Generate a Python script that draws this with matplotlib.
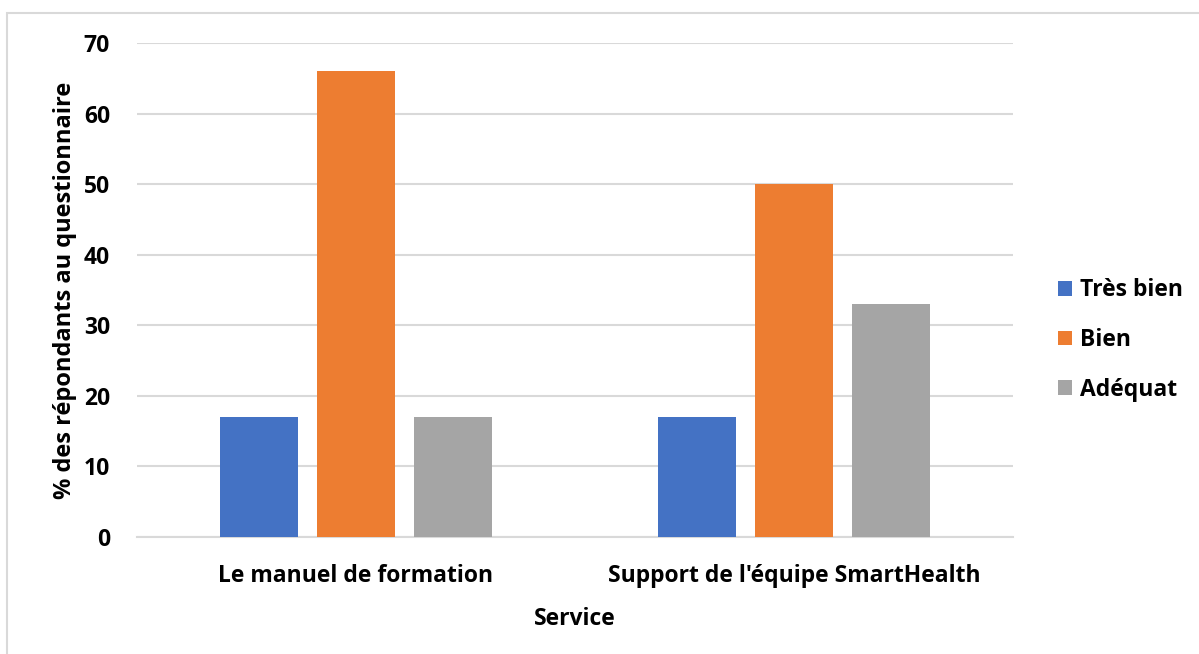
import matplotlib
matplotlib.use("Agg")
import matplotlib.pyplot as plt
from matplotlib.patches import Rectangle
import numpy as np

categories = ["Le manuel de formation", "Support de l'équipe SmartHealth"]
series_names = ["Très bien", "Bien", "Adéquat"]
tres_bien = [17, 17]
bien = [66, 50]
adequat = [17, 33]
colors = ["#4472C4", "#ED7D31", "#A5A5A5"]
yticks = [0, 10, 20, 30, 40, 50, 60, 70]

plt.rcParams['font.family'] = ['Open Sans', 'DejaVu Sans']
plt.rcParams['font.weight'] = 'bold'

fig = plt.figure(figsize=(11.99, 6.54), dpi=100)
ax = fig.add_axes([137/1199, 1-537/654, (1013-137)/1199, (537-43)/654])

x = np.arange(len(categories))
width = 0.176
step = 0.2215
for i, (vals, name) in enumerate(zip([tres_bien, bien, adequat], series_names)):
    ax.bar(x + (i-1)*step, vals, width, color=colors[i], label=name, zorder=3)

fs = 16.5
ax.set_xlim(-0.5, 1.5)
ax.set_ylim(0, 70)
ax.set_yticks(yticks)
ax.set_xticks(x)
ax.set_xticklabels(categories, fontsize=fs, fontweight='bold')
ax.set_yticklabels([str(t) for t in yticks], fontsize=fs, fontweight='bold')
ax.tick_params(axis='both', length=0)
ax.tick_params(axis='x', pad=19.5)
ax.tick_params(axis='y', pad=19.5)
ax.grid(axis='y', color='#d9d9d9', linewidth=1.5, zorder=0)
for s in ['top', 'right', 'left']:
    ax.spines[s].set_visible(False)
ax.spines['bottom'].set_color('#d9d9d9')
ax.spines['bottom'].set_linewidth(1.5)

ax.set_xlabel("Service", fontsize=fs, fontweight='bold', labelpad=13.5)
ax.set_ylabel("% des répondants au questionnaire", fontsize=17, fontweight='bold', labelpad=4.5)

leg = fig.legend(loc='center left', bbox_to_anchor=(1037/1199, 1-340/654), frameon=False,
                 handlelength=0.62, handleheight=0.62, handletextpad=0.35,
                 labelspacing=1.12, prop={'weight': 'bold', 'size': fs})

fig.patches.append(Rectangle((7/1199, -0.1), 1.2, 1.1 - 13/654, transform=fig.transFigure,
                             fill=False, edgecolor='#d9d9d9', linewidth=1.5))

fig.savefig("out.png", dpi=100)
